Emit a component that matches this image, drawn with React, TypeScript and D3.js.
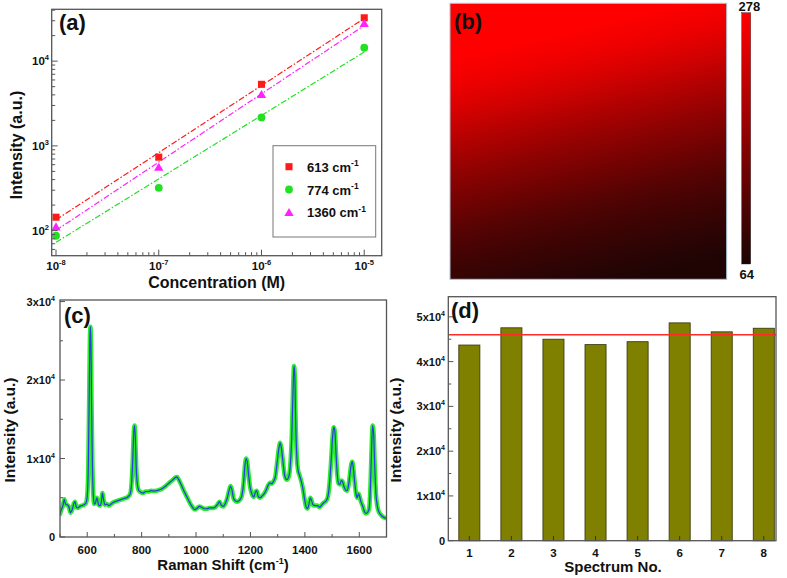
import React from "react";
import * as d3 from "d3";

// ---------- Panel (a) data ----------
const concentrations = [1e-8, 1e-7, 1e-6, 1e-5];
const int613 = [144, 736, 5330, 32500];
const int774 = [87, 320, 2170, 14400];
const int1360 = [111, 561, 4050, 27900];
const seriesLabels = ["613", "774", "1360"];
const xTicksA = [1e-8, 1e-7, 1e-6, 1e-5];
const xTickExpA = ["-8", "-7", "-6", "-5"];
const yTicksA = [1e2, 1e3, 1e4];
const yTickExpA = ["2", "3", "4"];

// ---------- Panel (b) data ----------
const heatProfile = [278, 278, 262, 236, 205, 175, 148, 121, 100, 84, 70];
const colorbarRange = [64, 278];

// ---------- Panel (c) data ----------
const ramanShift = [
  500, 505, 510, 516, 520, 526, 532, 539, 545, 551, 555, 560, 566, 572, 580, 588, 595, 600, 604, 607,
  610, 612, 614, 616, 619, 622, 626, 631, 635, 638, 642, 647, 652, 656, 660, 665, 672, 680, 688, 695,
  702, 710, 718, 726, 735, 745, 752, 758, 763, 767, 771, 774, 777, 780, 784, 790, 797, 805, 815, 825,
  835, 845, 855, 865, 875, 885, 895, 905, 915, 925, 930, 935, 945, 955, 965, 975, 985, 995, 1005, 1012,
  1020, 1030, 1040, 1050, 1060, 1070, 1080, 1086, 1092, 1100, 1108, 1115, 1122, 1127, 1132, 1138, 1145, 1152, 1160, 1168,
  1175, 1180, 1184, 1188, 1193, 1198, 1205, 1212, 1218, 1223, 1228, 1235, 1242, 1250, 1258, 1265, 1272, 1278, 1285, 1292,
  1298, 1304, 1309, 1314, 1320, 1326, 1333, 1340, 1346, 1352, 1356, 1360, 1363, 1366, 1370, 1375, 1380, 1386, 1392, 1398,
  1404, 1410, 1415, 1420, 1425, 1430, 1438, 1446, 1454, 1462, 1470, 1478, 1485, 1491, 1497, 1502, 1506, 1510, 1514, 1519,
  1524, 1529, 1534, 1538, 1543, 1549, 1555, 1560, 1565, 1570, 1574, 1578, 1583, 1588, 1592, 1597, 1601, 1606, 1612, 1618,
  1624, 1630, 1636, 1641, 1645, 1649, 1653, 1657, 1661, 1666, 1672, 1680, 1690, 1700,
];
const ramanIntensity = [
  2900, 3500, 3900, 4800, 4200, 4100, 3900, 3100, 3500, 4300, 4500, 3800, 3700, 3900, 4000, 4100, 4300, 5200, 9000, 17000,
  25500, 26800, 24000, 17000, 9500, 5600, 4200, 4400, 5000, 4700, 4100, 4000, 4500, 5600, 4800, 4100, 4200, 4000, 4200, 4400,
  4500, 4600, 4700, 4800, 4900, 5000, 5200, 5500, 6800, 9500, 13200, 14200, 12500, 9000, 6800, 5900, 5700, 5600, 5800, 5800,
  5900, 5850, 5900, 6000, 6150, 6400, 6700, 7000, 7300, 7600, 7650, 7400, 6700, 5900, 5200, 4500, 3900, 3500, 3700, 3900,
  3800, 3600, 3600, 3700, 3700, 3800, 4200, 4500, 4100, 3900, 4300, 5000, 6000, 6500, 6000, 4900, 4600, 4500, 4700, 5200,
  7000, 9200, 10000, 9600, 8000, 6500, 5500, 5100, 5700, 5900, 5200, 5000, 5200, 5500, 6000, 6600, 6900, 6800, 7100, 7800,
  9500, 11200, 12000, 11300, 9400, 7800, 7300, 7600, 9000, 13000, 18000, 21800, 20500, 15000, 10500, 8500, 7900, 7200, 6300, 5000,
  3900, 3600, 4200, 5000, 4600, 4100, 4000, 4000, 3800, 4100, 4400, 4600, 5200, 7000, 10000, 12800, 14000, 13500, 11000, 8000,
  6800, 6700, 7200, 7100, 6500, 6000, 5900, 6500, 7800, 9200, 9600, 8800, 7000, 5500, 5000, 5500, 5200, 4500, 4000, 3300,
  3000, 3100, 3600, 6500, 11000, 14200, 13000, 8800, 5600, 4000, 3200, 2800, 2500, 2400,
];
const ramanXTicks = [600, 800, 1000, 1200, 1400, 1600];
const ramanYTicks = [0, 10000, 20000, 30000];
const ramanYTickLabels = ["0", "1x10", "2x10", "3x10"];

// ---------- Panel (d) data ----------
const spectrumNo = [1, 2, 3, 4, 5, 6, 7, 8];
const peakIntensity = [43700, 47550, 45000, 43800, 44450, 48650, 46650, 47450];
const referenceLevel = 46000;
const barYTicks = [0, 10000, 20000, 30000, 40000, 50000];
const barYTickLabels = ["0", "1x10", "2x10", "3x10", "4x10", "5x10"];

const FONT = "'Liberation Sans', Arial, Helvetica, sans-serif";
const FRAME = "#555555";

function fit(xs: number[], ys: number[]) {
  const lx = xs.map(Math.log10);
  const ly = ys.map(Math.log10);
  const mx = d3.mean(lx)!;
  const my = d3.mean(ly)!;
  let sxy = 0, sxx = 0;
  lx.forEach((v, i) => { sxy += (v - mx) * (ly[i] - my); sxx += (v - mx) * (v - mx); });
  const b = sxy / sxx;
  return (x: number) => Math.pow(10, my + b * (Math.log10(x) - mx));
}

export default function App() {
  // ----- panel a scales -----
  const xA = d3.scaleLog().domain([Math.pow(10, -8.042), Math.pow(10, -4.83)]).range([51.7, 381.7]);
  const yA = d3.scaleLog().domain([Math.pow(10, 1.704), Math.pow(10, 4.612)]).range([255.7, 9.3]);
  const series = [
    { vals: int613, color: "#ff1a1a", sym: d3.symbolSquare, size: 50 },
    { vals: int774, color: "#22e022", sym: d3.symbolCircle, size: 48 },
    { vals: int1360, color: "#ff22ff", sym: d3.symbolTriangle, size: 38 },
  ];
  const isMajor = (t: number) => Math.abs(Math.log10(t) - Math.round(Math.log10(t))) < 1e-6;
  const [xa0, xa1] = xA.domain();
  const [ya0, ya1] = yA.domain();
  const xTicksAll = xA.ticks().filter((t) => t >= xa0 && t <= xa1);
  const yTicksAll = yA.ticks().filter((t) => t >= ya0 && t <= ya1);

  // ----- panel b -----
  const heatColor = d3.scaleLinear<string>().domain(colorbarRange).range(["#1a0404", "#ff0000"]);

  // ----- panel c scales -----
  const xC = d3.scaleLinear().domain([500, 1700]).range([60, 386.5]);
  const yC = d3.scaleLinear().domain([0, 30200]).range([537, 300]);
  const spectrumPts = ramanShift.map((s, i) => [s, ramanIntensity[i]] as [number, number]);
  const specLine = d3.line<[number, number]>().x((d) => xC(d[0])).y((d) => yC(d[1])).curve(d3.curveMonotoneX);
  const specPath = specLine(spectrumPts) || "";

  // ----- panel d scales -----
  const xD = d3.scaleLinear().domain([0.5, 8.29]).range([448.3, 776]);
  const yD = d3.scaleLinear().domain([0, 54500]).range([540.7, 296.7]);
  const barW = xD(1.25) - xD(0.75);

  const tickFont = { fontFamily: FONT, fontWeight: 700, fill: "#111" } as const;

  return (
    <svg width={787} height={578} style={{ position: "absolute", left: 0, top: 0, background: "#fff" }}>
      <defs>
        <linearGradient id="heatGrad" x1="0.38" y1="0" x2="0.62" y2="1">
          {heatProfile.map((v, i) => (
            <stop key={i} offset={i / (heatProfile.length - 1)} stopColor={heatColor(v)} />
          ))}
        </linearGradient>
        <linearGradient id="cbarGrad" x1="0" y1="0" x2="0" y2="1">
          {d3.range(0, 11).map((i) => {
            const v = colorbarRange[1] - (i / 10) * (colorbarRange[1] - colorbarRange[0]);
            return <stop key={i} offset={i / 10} stopColor={heatColor(v)} />;
          })}
        </linearGradient>
        <clipPath id="clipC">
          <rect x={60} y={300} width={326.5} height={237} />
        </clipPath>
      </defs>

      {/* ================= Panel (a) ================= */}
      <g>
        {series.map((s, si) => {
          const f = fit(concentrations, s.vals);
          const x0 = concentrations[0], x1 = concentrations[concentrations.length - 1];
          return (
            <line key={si} x1={xA(x0)} y1={yA(f(x0))} x2={xA(x1)} y2={yA(f(x1))}
              stroke={s.color} strokeWidth={1.2} strokeDasharray="6,2,1.5,2" />
          );
        })}
        {series.map((s, si) =>
          s.vals.map((v, i) => (
            <path key={si + "-" + i} d={d3.symbol().type(s.sym).size(s.size)() || ""}
              transform={`translate(${xA(concentrations[i])},${yA(v) + (s.sym === d3.symbolTriangle ? 1 : 0)})`}
              fill={s.color} />
          ))
        )}
        {xTicksAll.map((t, i) => (
          <line key={"xa" + i} x1={xA(t)} x2={xA(t)} y1={255.7} y2={255.7 - (isMajor(t) ? 6 : 3.5)} stroke={FRAME} strokeWidth={1} />
        ))}
        {yTicksAll.map((t, i) => (
          <line key={"ya" + i} x1={51.7} x2={51.7 + (isMajor(t) ? 6 : 3.5)} y1={yA(t)} y2={yA(t)} stroke={FRAME} strokeWidth={1} />
        ))}
        <rect x={51.7} y={9.3} width={330} height={246.4} fill="none" stroke={FRAME} strokeWidth={1.3} />
        {xTicksA.map((t, i) => (
          <text key={"xal" + i} x={xA(t)} y={270} textAnchor="middle" fontSize={11.5} {...tickFont}>
            10<tspan dy={-5} fontSize={7.5}>{xTickExpA[i]}</tspan>
          </text>
        ))}
        {yTicksA.map((t, i) => (
          <text key={"yal" + i} x={49} y={yA(t) + 4} textAnchor="end" fontSize={11.5} {...tickFont}>
            10<tspan dy={-5} fontSize={7.5}>{yTickExpA[i]}</tspan>
          </text>
        ))}
        <text x={216.7} y={287.5} textAnchor="middle" fontSize={16} {...tickFont}>Concentration (M)</text>
        <text transform="translate(21.5,145) rotate(-90)" textAnchor="middle" fontSize={16} {...tickFont}>Intensity (a.u.)</text>
        <text x={59} y={30} fontSize={22} {...tickFont}>(a)</text>
        <rect x={273} y={145.7} width={102.7} height={91.3} fill="#fff" stroke="#777" strokeWidth={1} />
        {series.map((s, si) => {
          const ry = 166.7 + si * 22.8;
          return (
            <g key={"lg" + si}>
              <path d={d3.symbol().type(s.sym).size(s.size)() || ""} transform={`translate(289,${ry + (s.sym === d3.symbolTriangle ? 1 : 0)})`} fill={s.color} />
              <text x={307} y={ry + 5} fontSize={13} {...tickFont}>
                {seriesLabels[si]} cm<tspan dy={-5.5} fontSize={8.5}>-1</tspan>
              </text>
            </g>
          );
        })}
      </g>

      {/* ================= Panel (b) ================= */}
      <g>
        <rect x={450} y={3.3} width={276.7} height={276} fill="url(#heatGrad)" stroke="#a9c6d8" strokeWidth={1} />
        <text x={454} y={29} fontSize={22} {...tickFont}>(b)</text>
        <rect x={741.7} y={12.7} width={9} height={251.3} fill="url(#cbarGrad)" stroke="#222" strokeWidth={0.4} />
        <text x={749.3} y={11} textAnchor="middle" fontSize={13} {...tickFont}>{colorbarRange[1]}</text>
        <text x={746.7} y={279} textAnchor="middle" fontSize={13} {...tickFont}>{colorbarRange[0]}</text>
      </g>

      {/* ================= Panel (c) ================= */}
      <g>
        <g clipPath="url(#clipC)">
          <path d={specPath} fill="none" stroke="#2aee2a" strokeWidth={4.5} strokeLinejoin="round" strokeLinecap="round" />
          <path d={specPath} fill="none" stroke="#2a3ce0" strokeWidth={1.2} strokeLinejoin="round" />
        </g>
        {d3.range(500, 1701, 100).map((t, i) => (
          <line key={"xc" + i} x1={xC(t)} x2={xC(t)} y1={537} y2={537 - (t % 200 === 0 ? 5 : 3)} stroke={FRAME} strokeWidth={1} />
        ))}
        {d3.range(0, 30001, 5000).map((t, i) => (
          <line key={"yc" + i} x1={60} x2={60 + (t % 10000 === 0 ? 5 : 3)} y1={yC(t)} y2={yC(t)} stroke={FRAME} strokeWidth={1} />
        ))}
        <rect x={60} y={300} width={326.5} height={237} fill="none" stroke={FRAME} strokeWidth={1.3} />
        {ramanXTicks.map((t, i) => (
          <text key={"xcl" + i} x={xC(t)} y={553.5} textAnchor="middle" fontSize={11.5} {...tickFont}>{t}</text>
        ))}
        {ramanYTicks.map((t, i) => (
          <text key={"ycl" + i} x={55} y={yC(t) + 4} textAnchor="end" fontSize={11} {...tickFont}>
            {ramanYTickLabels[i]}
            {t !== 0 ? <tspan dy={-5} fontSize={7}>4</tspan> : null}
          </text>
        ))}
        <text x={223} y={569.5} textAnchor="middle" fontSize={15} {...tickFont}>
          Raman Shift (cm<tspan dy={-5.5} fontSize={9}>-1</tspan><tspan dy={5.5}>)</tspan>
        </text>
        <text transform="translate(15,430) rotate(-90)" textAnchor="middle" fontSize={15.5} {...tickFont}>Intensity (a.u.)</text>
        <text x={64} y={323} fontSize={22} {...tickFont}>(c)</text>
      </g>

      {/* ================= Panel (d) ================= */}
      <g>
        {spectrumNo.map((n, i) => (
          <rect key={"bar" + i} x={xD(n) - barW / 2} y={yD(peakIntensity[i])} width={barW}
            height={yD(0) - yD(peakIntensity[i])} fill="#808000" stroke="#3c3c10" strokeWidth={0.9} />
        ))}
        {spectrumNo.map((n, i) => (
          <line key={"xdt" + i} x1={xD(n)} x2={xD(n)} y1={540.7} y2={536} stroke="#333" strokeWidth={1} />
        ))}
        {d3.range(0, 50001, 5000).map((t, i) => (
          <line key={"ydt" + i} x1={448.3} x2={448.3 + (t % 10000 === 0 ? 5 : 3)} y1={yD(t)} y2={yD(t)} stroke={FRAME} strokeWidth={1} />
        ))}
        <line x1={448.3} x2={776} y1={yD(referenceLevel)} y2={yD(referenceLevel)} stroke="#ff2a2a" strokeWidth={1.6} />
        <rect x={448.3} y={296.7} width={327.7} height={244} fill="none" stroke={FRAME} strokeWidth={1.3} />
        {spectrumNo.map((n, i) => (
          <text key={"xdl" + i} x={xD(n)} y={556.5} textAnchor="middle" fontSize={11.5} {...tickFont}>{n}</text>
        ))}
        {barYTicks.map((t, i) => (
          <text key={"ydl" + i} x={445} y={yD(t) + 4} textAnchor="end" fontSize={11} {...tickFont}>
            {barYTickLabels[i]}
            {t !== 0 ? <tspan dy={-5} fontSize={7}>4</tspan> : null}
          </text>
        ))}
        <text x={613} y={572} textAnchor="middle" fontSize={15} {...tickFont}>Spectrum No.</text>
        <text transform="translate(401,430) rotate(-90)" textAnchor="middle" fontSize={15.5} {...tickFont}>Intensity (a.u.)</text>
        <text x={451} y={318} fontSize={22} {...tickFont}>(d)</text>
      </g>
    </svg>
  );
}
